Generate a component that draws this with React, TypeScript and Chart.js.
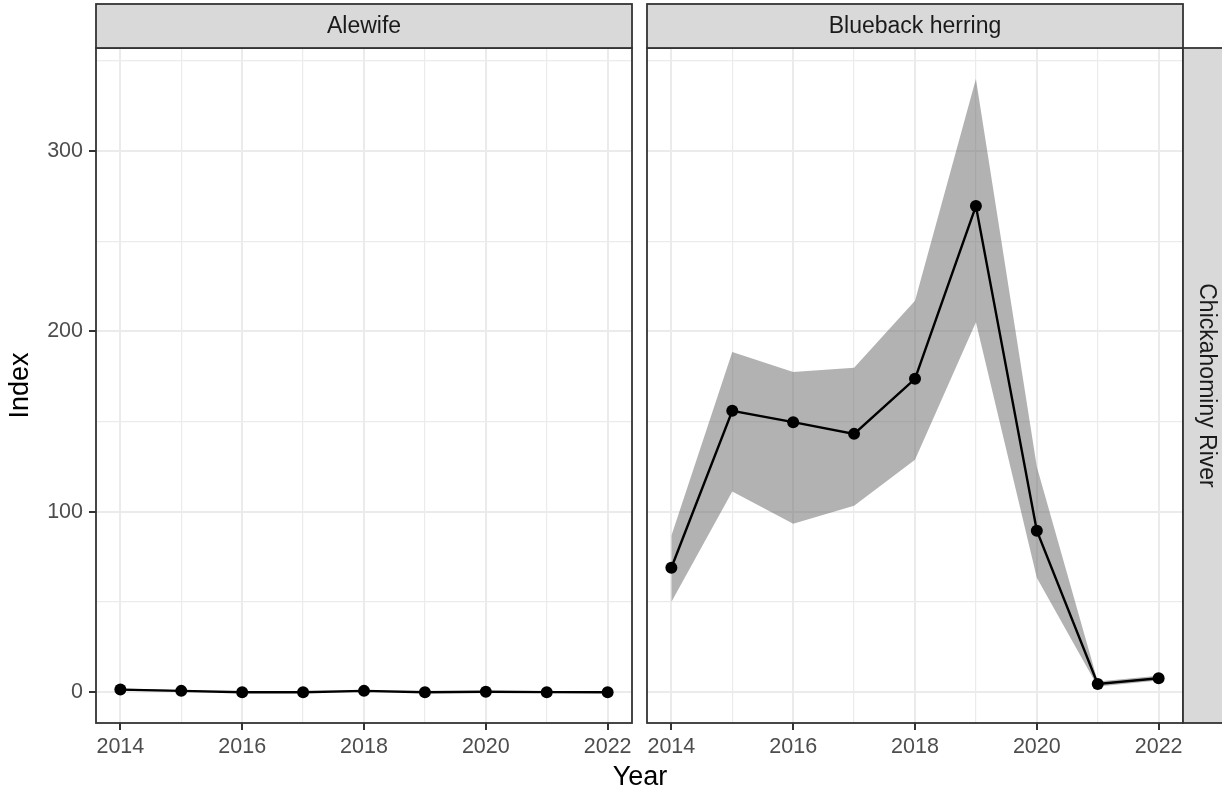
import React, { useEffect, useRef } from 'react';
import { Chart, registerables } from 'chart.js';

Chart.register(...registerables);

// ---------- data ----------
const years = [2014, 2015, 2016, 2017, 2018, 2019, 2020, 2021, 2022];

const alewifeIndex = [1.5, 0.8, 0, 0, 0.8, 0, 0.3, 0.1, 0];
const alewifeLower = [0.9, 0.4, 0, 0, 0.4, 0, 0.1, 0, 0];
const alewifeUpper = [2.1, 1.2, 0.2, 0.2, 1.2, 0.2, 0.5, 0.2, 0.1];

const bluebackIndex = [69, 156, 149.7, 143.2, 173.7, 269.4, 89.5, 4.6, 7.8];
const bluebackLower = [50, 111.3, 93.4, 103.4, 128.8, 205, 63.5, 3.2, 6.5];
const bluebackUpper = [86.8, 188.5, 177.5, 179.8, 217, 339.8, 125, 6, 9.2];

const xTickLabels = [2014, 2016, 2018, 2020, 2022];
const yTickLabels = [0, 100, 200, 300];
const facetLabels = ['Alewife', 'Blueback herring'];
const rowLabel = 'Chickahominy River';
const xTitle = 'Year';
const yTitle = 'Index';

const FONT = '"Liberation Sans", Arial, Helvetica, sans-serif';
const GRID = '#ebebeb';
const DARK = '#333333';

const pts = (vals: number[]) => years.map((x, i) => ({ x, y: vals[i] }));

function stripPlugin(label: string, row: string | null) {
  return {
    id: 'strips',
    afterDraw(chart: any) {
      const { ctx, chartArea: a } = chart;
      ctx.save();
      ctx.strokeStyle = DARK;
      ctx.lineWidth = 1.8;
      ctx.strokeRect(a.left, a.top, a.right - a.left, a.bottom - a.top);
      // top strip
      const st = 4;
      ctx.fillStyle = '#d9d9d9';
      ctx.fillRect(a.left, st, a.right - a.left, a.top - st);
      ctx.strokeRect(a.left, st, a.right - a.left, a.top - st);
      ctx.fillStyle = '#1a1a1a';
      ctx.font = `23px ${FONT}`;
      ctx.textAlign = 'center';
      ctx.textBaseline = 'middle';
      ctx.fillText(label, (a.left + a.right) / 2, (st + a.top) / 2 + 1);
      if (row) {
        const w = chart.width - a.right;
        ctx.fillStyle = '#d9d9d9';
        ctx.fillRect(a.right, a.top, w + 4, a.bottom - a.top);
        ctx.strokeRect(a.right, a.top, w + 4, a.bottom - a.top);
        ctx.fillStyle = '#1a1a1a';
        ctx.translate(a.right + 23, (a.top + a.bottom) / 2);
        ctx.rotate(Math.PI / 2);
        ctx.fillText(row, 0, 0);
      }
      ctx.restore();
    },
  };
}

function makeConfig(
  label: string,
  idx: number[],
  lo: number[],
  hi: number[],
  showY: boolean,
  row: string | null,
  padding: any
): any {
  return {
    type: 'line',
    data: {
      datasets: [
        {
          data: pts(lo),
          order: 2,
          borderWidth: 0,
          pointRadius: 0,
          fill: false,
          borderColor: 'rgba(0,0,0,0)',
        },
        {
          data: pts(hi),
          order: 1,
          borderWidth: 0,
          pointRadius: 0,
          fill: '-1',
          borderColor: 'rgba(0,0,0,0)',
          backgroundColor: 'rgba(102,102,102,0.5)',
        },
        {
          data: pts(idx),
          order: 0,
          borderColor: '#000000',
          borderWidth: 2.4,
          pointRadius: 6,
          pointBackgroundColor: '#000000',
          pointBorderColor: '#000000',
          pointBorderWidth: 0,
          fill: false,
        },
      ],
    },
    options: {
      responsive: false,
      animation: false,
      events: [],
      layout: { padding },
      plugins: {
        legend: { display: false },
        tooltip: { enabled: false },
        filler: { drawTime: 'beforeDatasetsDraw' },
      },
      scales: {
        x: {
          type: 'linear',
          min: 2013.6,
          max: 2022.4,
          border: { display: false },
          grid: {
            color: GRID,
            lineWidth: (c: any) => (xTickLabels.includes(c.tick?.value) ? 2 : 1.2),
            tickColor: (c: any) => (xTickLabels.includes(c.tick?.value) ? DARK : 'rgba(0,0,0,0)'),
            tickWidth: 2,
            tickLength: 7,
          },
          ticks: {
            stepSize: 1,
            includeBounds: false,
            autoSkip: false,
            maxRotation: 0,
            maxTicksLimit: 20,
            padding: 4,
            color: '#4d4d4d',
            font: { family: FONT, size: 21.5 },
            callback: (v: any) => (xTickLabels.includes(v) ? String(v) : ''),
          },
          afterFit: (s: any) => {
            s.height = 72;
          },
        },
        y: {
          type: 'linear',
          min: -17,
          max: 357,
          border: { display: false },
          grid: {
            color: GRID,
            lineWidth: (c: any) => (yTickLabels.includes(c.tick?.value) ? 2 : 1.2),
            tickColor: (c: any) => (yTickLabels.includes(c.tick?.value) ? DARK : 'rgba(0,0,0,0)'),
            tickWidth: 2,
            tickLength: 7,
            drawTicks: showY,
          },
          ticks: {
            display: showY,
            stepSize: 50,
            includeBounds: false,
            autoSkip: false,
            maxTicksLimit: 20,
            padding: 6,
            color: '#4d4d4d',
            font: { family: FONT, size: 21.5 },
            callback: (v: any) => (yTickLabels.includes(v) ? String(v) : ''),
          },
          title: {
            display: showY,
            text: yTitle,
            color: '#000000',
            font: { family: FONT, size: 27 },
            padding: { top: 4, bottom: 0 },
          },
          afterFit: (s: any) => {
            s.width = showY ? 96 : 0;
          },
        },
      },
    },
    plugins: [stripPlugin(label, row)],
  };
}

export default function App() {
  const leftRef = useRef<HTMLCanvasElement>(null);
  const rightRef = useRef<HTMLCanvasElement>(null);

  useEffect(() => {
    document.body.style.margin = '0';
    const c1 = new Chart(
      leftRef.current as HTMLCanvasElement,
      makeConfig(facetLabels[0], alewifeIndex, alewifeLower, alewifeUpper, true, null, {
        top: 48,
        right: 8,
        left: 0,
        bottom: 0,
      })
    );
    const c2 = new Chart(
      rightRef.current as HTMLCanvasElement,
      makeConfig(facetLabels[1], bluebackIndex, bluebackLower, bluebackUpper, false, rowLabel, {
        top: 48,
        right: 39,
        left: 7,
        bottom: 0,
      })
    );
    return () => {
      c1.destroy();
      c2.destroy();
    };
  }, []);

  return (
    <div style={{ position: 'relative', width: 1222, height: 795, background: '#ffffff', overflow: 'hidden' }}>
      <canvas ref={leftRef} width={640} height={795} style={{ position: 'absolute', left: 0, top: 0 }} />
      <canvas ref={rightRef} width={582} height={795} style={{ position: 'absolute', left: 640, top: 0 }} />
      <div
        style={{
          position: 'absolute',
          left: 540,
          width: 200,
          top: 761,
          textAlign: 'center',
          fontFamily: FONT,
          fontSize: 27,
          lineHeight: '30px',
          color: '#000000',
        }}
      >
        {xTitle}
      </div>
    </div>
  );
}
